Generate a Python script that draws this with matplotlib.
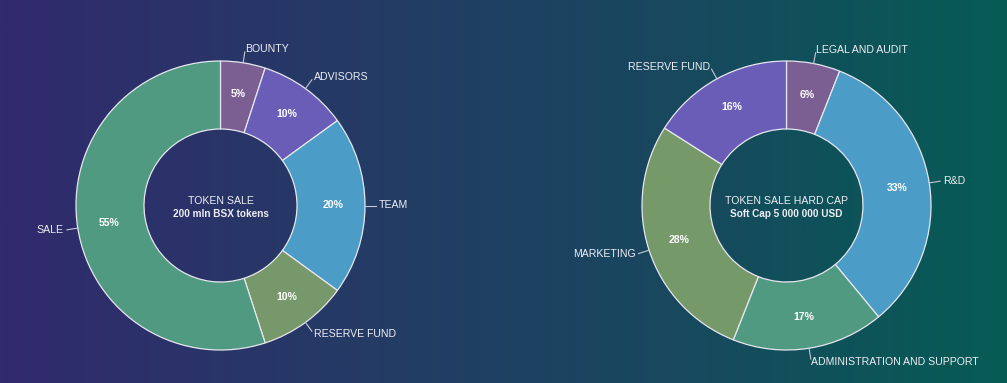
import matplotlib
matplotlib.use('Agg')
import matplotlib.pyplot as plt
import numpy as np
from matplotlib.colors import LinearSegmentedColormap

W, H = 1007, 383

# left donut
left_labels = ['BOUNTY', 'ADVISORS', 'TEAM', 'RESERVE FUND', 'SALE']
left_values = [5, 10, 20, 10, 55]
left_colors = ['#7b5f93', '#6a5db8', '#4b9cc6', '#76986a', '#4f9a80']
left_title = ['TOKEN SALE', '200 mln BSX tokens']

# right donut
right_labels = ['LEGAL AND AUDIT', 'R&D', 'ADMINISTRATION AND SUPPORT',
                'MARKETING', 'RESERVE FUND']
right_values = [6, 33, 17, 28, 16]
right_colors = ['#7b5f93', '#4b9cc6', '#4f9a80', '#76996a', '#6a5db8']
right_title = ['TOKEN SALE HARD CAP', 'Soft Cap 5 000 000 USD']

R_OUT = 144.5
R_IN = 76.5
TXT = '#eeeef4'
FONT = ['Liberation Sans', 'DejaVu Sans']

plt.rcParams['font.family'] = FONT

fig = plt.figure(figsize=(W / 100, H / 100), dpi=100)
ax = fig.add_axes([0, 0, 1, 1])

# background gradient
bg = LinearSegmentedColormap.from_list(
    'bg', ['#312a6d', '#253a66', '#18485e', '#065c55'])
grad = np.linspace(0, 1, 512)[None, :]
ax.imshow(grad, cmap=bg, extent=[0, W, 0, H], aspect='auto', zorder=0)


def donut(cx, cy, labels, values, colors, title):
    ax.pie(values, colors=colors, center=(cx, cy), radius=R_OUT,
           startangle=90, counterclock=False,
           wedgeprops=dict(width=R_OUT - R_IN, edgecolor='#e6e6ee',
                           linewidth=0.9))
    total = float(sum(values))
    start = 90.0
    for lab, v in zip(labels, values):
        span = 360.0 * v / total
        mid = np.deg2rad(start - span / 2)
        start -= span
        c, s = np.cos(mid), np.sin(mid)
        rm = (R_OUT + R_IN) / 2 + 2
        ax.text(cx + rm * c, cy + rm * s, '{}%'.format(v), color='white',
                fontsize=7.6, fontweight='bold', ha='center', va='center')
        ax.plot([cx + R_OUT * c, cx + (R_OUT + 11) * c],
                [cy + R_OUT * s, cy + (R_OUT + 11) * s],
                color='#c8c8d8', lw=0.8)
        rt = R_OUT + 14
        ax.text(cx + rt * c, cy + rt * s, lab, color=TXT, fontsize=7.6,
                ha='left' if c >= 0 else 'right', va='center')
    ax.text(cx, cy + 5, title[0], color=TXT, fontsize=7.6,
            ha='center', va='center')
    ax.text(cx, cy - 8.5, title[1], color=TXT, fontsize=7.2,
            fontweight='semibold', ha='center', va='center')


donut(220.5, H - 205.5, left_labels, left_values, left_colors, left_title)
donut(786.5, H - 205.5, right_labels, right_values, right_colors, right_title)

ax.set_xlim(0, W)
ax.set_ylim(0, H)
ax.set_aspect('auto')
ax.axis('off')

fig.savefig('out.png', dpi=100)
